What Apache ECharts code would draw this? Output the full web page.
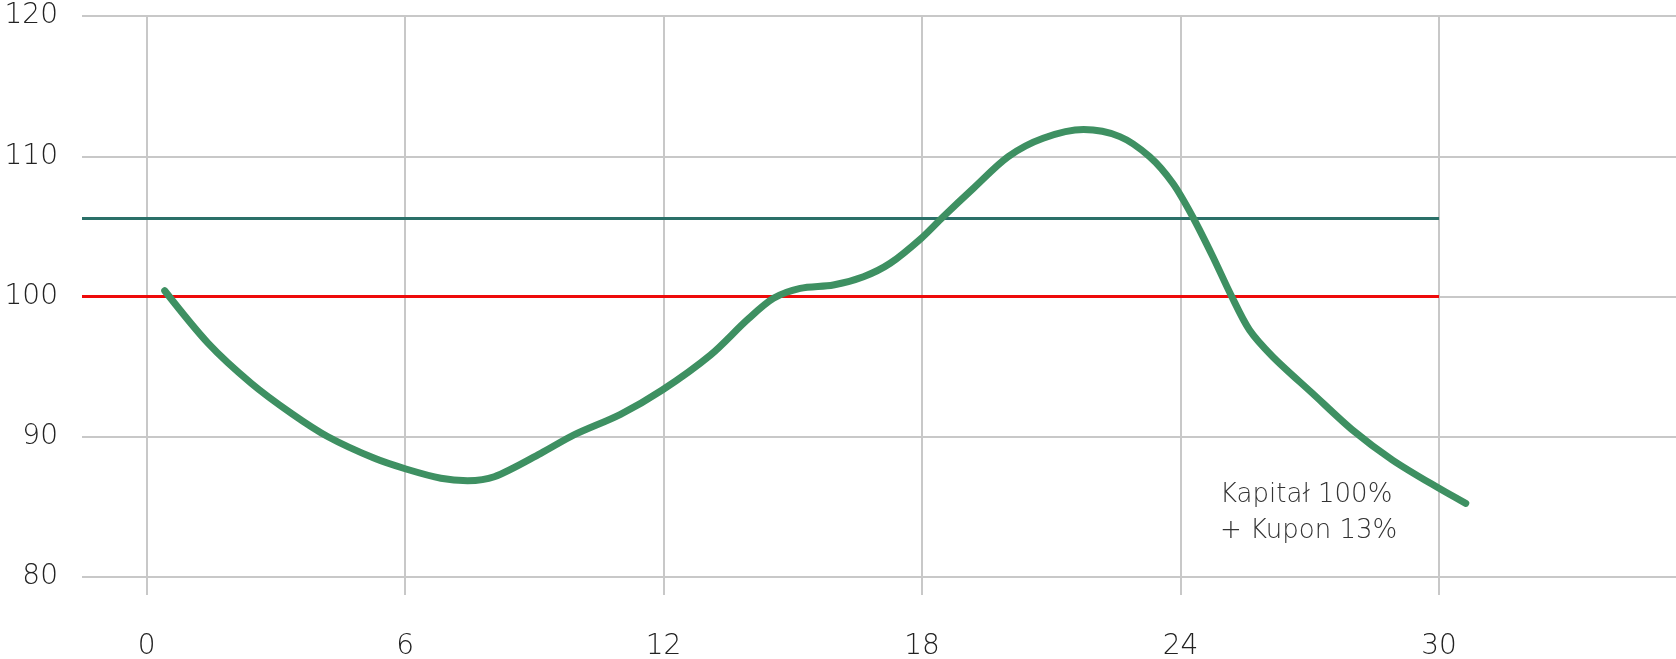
<!DOCTYPE html>
<html><head><meta charset="utf-8">
<script src="https://cdn.jsdelivr.net/npm/echarts@6/dist/echarts.min.js"></script>
<style>html,body{margin:0;padding:0;background:#fff}#c{width:1676px;height:659px}</style>
</head><body><div id="c"></div>
<script>
const xTicks = [0, 6, 12, 18, 24, 30];
const yTicks = [80, 90, 100, 110, 120];
const curveX = [0.42, 1.43, 2.43, 3.36, 4.21, 5.29, 6.02, 6.83, 7.45, 8.07, 9.15, 9.92, 11.0, 11.97, 13.09, 13.94, 14.55, 15.17, 15.94, 16.64, 17.26, 17.98, 18.49, 19.19, 20.0, 20.81, 21.75, 22.59, 23.28, 23.82, 24.28, 24.75, 25.17, 25.6, 26.14, 27.06, 27.99, 28.92, 30.0, 30.62];
const curveY = [100.41, 96.66, 93.81, 91.67, 90.0, 88.46, 87.7, 87.04, 86.87, 87.15, 88.82, 90.13, 91.6, 93.33, 95.83, 98.33, 99.87, 100.58, 100.82, 101.41, 102.37, 104.15, 105.69, 107.71, 109.97, 111.28, 111.9, 111.4, 109.97, 108.07, 105.69, 102.84, 100.11, 97.61, 95.71, 93.1, 90.48, 88.34, 86.32, 85.25];
const barrierLevel = 105.6;
const capitalLevel = 100;
const levelStart = -1.5;
const levelEnd = 30;
const annotation = ['Kapitał 100%', '+ Kupon 13%'];

const FONT = 'DejaVu Sans';
const GRID = '#c8c8c8';
const chart = echarts.init(document.getElementById('c'));
chart.setOption({
  animation: false,
  grid: { left: 82, right: 0, top: 16, bottom: 82, outerBoundsMode: 'none', containLabel: false },
  xAxis: {
    type: 'value', min: -1.5, max: 35.5,
    axisLine: { show: false },
    splitLine: { show: false },
    axisTick: { show: true, customValues: xTicks, length: 18, lineStyle: { color: GRID, width: 2 } },
    axisLabel: { customValues: xTicks, margin: 56, color: '#222', fontFamily: FONT, fontWeight: 200, fontSize: 28 }
  },
  yAxis: {
    type: 'value', min: yTicks[0], max: yTicks[yTicks.length - 1], interval: 10,
    axisLine: { show: false }, axisTick: { show: false },
    splitLine: { lineStyle: { color: GRID, width: 2 } },
    axisLabel: { margin: 24, color: '#222', fontFamily: FONT, fontWeight: 200, fontSize: 28 }
  },
  series: [
    {
      type: 'line', data: [], silent: true,
      markLine: {
        silent: true, symbol: 'none', label: { show: false },
        lineStyle: { color: GRID, width: 2, type: 'solid' },
        data: xTicks.map(v => ({ xAxis: v }))
      }
    },
    {
      type: 'line', data: [], silent: true,
      markLine: {
        silent: true, symbol: 'none', label: { show: false },
        data: [
          [{ coord: [levelStart, barrierLevel], lineStyle: { color: '#2a7068', width: 3, type: 'solid' } }, { coord: [levelEnd, barrierLevel] }],
          [{ coord: [levelStart, capitalLevel], lineStyle: { color: '#ee0a0a', width: 3, type: 'solid' } }, { coord: [levelEnd, capitalLevel] }]
        ]
      }
    },
    {
      type: 'line',
      data: curveX.map((x, i) => [x, curveY[i]]),
      smooth: 0.3, showSymbol: false, symbol: 'none',
      lineStyle: { color: '#3e9062', width: 7, cap: 'round', join: 'round' },
      z: 5
    }
  ],
  graphic: [{
    type: 'text', left: 1220, top: 477,
    style: { text: annotation.join('\n'), fontFamily: FONT, fontWeight: 200, fontSize: 26, lineHeight: 36, fill: '#333' }
  }]
});
</script></body></html>
